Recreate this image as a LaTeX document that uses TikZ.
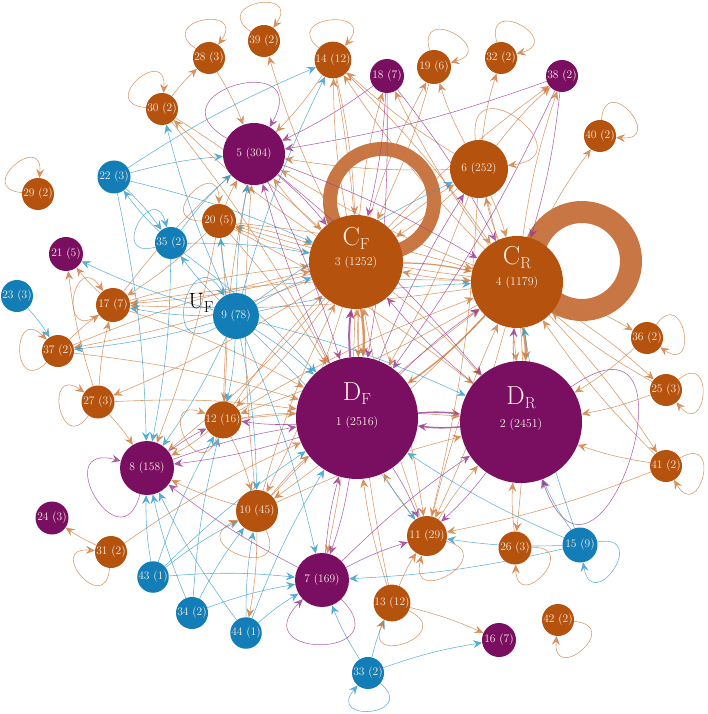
\documentclass[tikz,border=0pt]{standalone}
\usepackage{fontspec}
\usetikzlibrary{arrows.meta}
\definecolor{ocol}{RGB}{181,82,14}
\definecolor{pcol}{RGB}{122,15,98}
\definecolor{bcol}{RGB}{18,125,182}
\definecolor{oedge}{RGB}{208,125,65}
\definecolor{bedge}{RGB}{55,158,205}
\definecolor{pedge}{RGB}{155,60,145}
\definecolor{ringc}{RGB}{200,118,68}
\definecolor{tcol}{RGB}{252,240,228}
\pgfdeclarelayer{bg}
\pgfsetlayers{bg,main}
\newcommand{\bigsub}[2]{#1\raisebox{-0.35ex}{\fontsize{16}{16}\selectfont #2}}
\tikzset{
  nd/.style={circle, inner sep=0pt, text=tcol, font=\fontsize{11.5}{13}\selectfont},
  on/.style={nd, fill=ocol},
  pn/.style={nd, fill=pcol},
  bn/.style={nd, fill=bcol},
  tip/.style={-{Stealth[length=9pt,width=8pt,inset=3.5pt]}},
  oe/.style={draw=oedge, opacity=0.8, line width=0.55pt, tip},
  be/.style={draw=bedge, opacity=0.8, line width=0.55pt, tip},
  pe/.style={draw=pedge, opacity=0.8, line width=0.55pt, tip},
  biglbl/.style={text=tcol, font=\fontsize{26}{28}\selectfont, inner sep=0pt},
  numlbl/.style={text=tcol, font=\fontsize{12}{14}\selectfont, inner sep=0pt},
}
\begin{document}
\begin{tikzpicture}[x=1pt,y=-1pt]
\useasboundingbox (0,0) rectangle (708,714);
% nodes
\node[pn, minimum size=122pt] (n1) at (357,418) {};
\node[pn, minimum size=122pt] (n2) at (521,422) {};
\node[on, minimum size=94pt] (n3) at (356,262) {};
\node[on, minimum size=92pt] (n4) at (517,282) {};
\node[pn, minimum size=62pt] (n5) at (254,154) {5 (304)};
\node[on, minimum size=58pt] (n6) at (479,169) {6 (252)};
\node[pn, minimum size=54pt] (n7) at (322,580) {7 (169)};
\node[pn, minimum size=54pt] (n8) at (147,468) {8 (158)};
\node[bn, minimum size=46pt] (n9) at (236,316) {9 (78)};
\node[on, minimum size=42pt] (n10) at (257,511) {10 (45)};
\node[on, minimum size=40pt] (n11) at (427,536) {11 (29)};
\node[on, minimum size=36pt] (n12) at (223,420) {12 (16)};
\node[on, minimum size=36pt] (n13) at (392,603) {13 (12)};
\node[on, minimum size=35pt] (n14) at (333,60) {14 (12)};
\node[bn, minimum size=35pt] (n15) at (580,545) {15 (9)};
\node[pn, minimum size=34pt] (n16) at (499,640) {16 (7)};
\node[on, minimum size=34pt] (n17) at (113,305) {17 (7)};
\node[pn, minimum size=34pt] (n18) at (387,76) {18 (7)};
\node[on, minimum size=34pt] (n19) at (434,67) {19 (6)};
\node[on, minimum size=34pt] (n20) at (219,221) {20 (5)};
\node[pn, minimum size=34pt] (n21) at (66,254) {21 (5)};
\node[bn, minimum size=33pt] (n22) at (114,177) {22 (3)};
\node[bn, minimum size=32pt] (n23) at (17,296) {23 (3)};
\node[pn, minimum size=33pt] (n24) at (52,518) {24 (3)};
\node[on, minimum size=32pt] (n25) at (666,390) {25 (3)};
\node[on, minimum size=33pt] (n26) at (515,548) {26 (3)};
\node[on, minimum size=33pt] (n27) at (98,402) {27 (3)};
\node[on, minimum size=32pt] (n28) at (209,58) {28 (3)};
\node[on, minimum size=32pt] (n29) at (38,194) {29 (2)};
\node[on, minimum size=32pt] (n30) at (162,109) {30 (2)};
\node[on, minimum size=32pt] (n31) at (111,552) {31 (2)};
\node[on, minimum size=32pt] (n32) at (501,58) {32 (2)};
\node[bn, minimum size=32pt] (n33) at (368,673) {33 (2)};
\node[bn, minimum size=32pt] (n34) at (192,613) {34 (2)};
\node[bn, minimum size=32pt] (n35) at (171,243) {35 (2)};
\node[on, minimum size=32pt] (n36) at (647,338) {36 (2)};
\node[on, minimum size=32pt] (n37) at (58,351) {37 (2)};
\node[pn, minimum size=32pt] (n38) at (562,76) {38 (2)};
\node[on, minimum size=32pt] (n39) at (264,41) {39 (2)};
\node[on, minimum size=32pt] (n40) at (600,136) {40 (2)};
\node[on, minimum size=32pt] (n41) at (666,466) {41 (2)};
\node[on, minimum size=32pt] (n42) at (558,620) {42 (2)};
\node[bn, minimum size=31pt] (n43) at (153,577) {43 (1)};
\node[bn, minimum size=31pt] (n44) at (246,633) {44 (1)};
% labels of the big nodes
\node[biglbl] (L1) at ([yshift=24pt]n1.center) {\bigsub{D}{F}};
\node[numlbl] (N1) at ([yshift=-5pt]n1.center) {1 (2516)};
\node[biglbl] (L2) at ([yshift=24pt]n2.center) {\bigsub{D}{R}};
\node[numlbl] (N2) at ([yshift=-3pt]n2.center) {2 (2451)};
\node[biglbl] (L3) at ([yshift=24pt]n3.center) {\bigsub{C}{F}};
\node[numlbl] (N3) at ([yshift=-1pt]n3.center) {3 (1252)};
\node[biglbl] (L4) at ([yshift=24pt]n4.center) {\bigsub{C}{R}};
\node[numlbl] (N4) at ([yshift=-1pt]n4.center) {4 (1179)};
\node[font=\fontsize{22}{24}\selectfont, inner sep=0pt] (UF) at (201,303) {\bigsub{U}{F}};

\begin{pgfonlayer}{bg}
% thick self loops of C_F and C_R
\coordinate (rc3) at (382,201);
\coordinate (rc4) at (582,261);
\draw[ringc, line width=14pt] (rc3) circle[radius=52pt];
\draw[ringc, line width=22pt] (rc4) circle[radius=49pt];
% thick edges
\draw[oe, line width=2.5pt, -{Stealth[length=10pt,width=9pt,inset=3pt]}] (n3) to[bend left=6] (n1);
\draw[oe, line width=2.5pt, -{Stealth[length=10pt,width=9pt,inset=3pt]}] (n4) to[bend left=6] (n2);
\draw[pe, line width=2pt, -{Stealth[length=10pt,width=9pt,inset=3pt]}] (n1) to[bend left=6] (n3);
\draw[pe, line width=1.5pt] (n1) to[bend left=6] (n2);
\draw[pe, line width=1.5pt] (n2) to[bend left=6] (n1);
\draw[oe, line width=1.5pt] (n4) to[bend left=6] (n1);
\draw[oe, line width=1.2pt] (n3) to[bend left=6] (n4);
% orange edges
\foreach \a/\b in {3/5,3/6,3/14,3/18,3/19,3/20,3/17,3/12,3/8,3/11,3/10,3/39,3/38,3/2,3/27,3/37,3/30,3/7,
  4/3,4/6,4/5,4/11,4/26,4/25,4/36,4/40,4/38,4/14,4/18,4/12,4/10,4/41,4/17,4/20,
  6/5,6/4,6/3,6/1,6/2,6/32,6/38,6/14,6/11,6/19,
  10/1,10/3,10/8,10/44,10/5,10/2,10/4,
  11/1,11/2,11/4,11/3,
  12/1,12/3,12/8,12/5,12/10,12/2,12/4,
  13/1,13/11,13/16,13/3,
  14/3,14/1,14/5,14/4,
  17/1,17/3,17/21,17/5,17/4,
  19/3,
  20/5,20/3,20/1,20/8,20/17,20/12,20/4,20/2,
  25/2,25/4,26/2,27/17,27/21,27/1,27/8,28/5,30/28,30/3,30/1,
  31/24,31/1,36/2,37/17,37/3,37/1,41/2,41/11,41/4}
  \draw[oe] (n\a) to[bend left=5] (n\b);
% blue edges
\foreach \a/\b in {9/3,9/1,9/5,9/17,9/21,9/37,9/8,9/12,9/10,9/20,9/35,9/4,9/14,9/30,9/7,9/2,9/11,9/6,
  22/14,22/5,22/35,35/22,22/8,22/3,35/5,35/8,35/3,35/1,23/37,
  43/8,43/12,43/7,43/1,43/10,34/8,34/10,34/7,34/12,44/8,44/7,44/1,44/10,
  15/11,15/7,15/2,15/1,15/4,33/7,33/13,33/16}
  \draw[be] (n\a) to[bend left=5] (n\b);
% purple edges
\foreach \a/\b in {1/8,1/5,1/4,1/11,1/7,1/12,1/6,2/4,2/11,2/3,5/1,5/3,5/4,5/2,
  7/8,7/1,7/2,7/11,8/1,8/12,18/3,18/1,18/5,18/4,38/4,38/5,38/1}
  \draw[pe] (n\a) to[bend left=5] (n\b);
% self loops: node / axis angle / control distance
\foreach \n/\a/\d in {28/100/50,39/100/50,14/95/50,30/130/50,29/130/48,
  19/60/50,32/60/50,40/40/50,36/10/48,25/-5/48,41/-15/50,
  26/-43/50,42/-50/50,13/-70/54,11/-60/56,10/-110/60,
  27/190/50,37/180/50,31/220/50,17/170/52,12/205/54,20/135/50,6/52/80}
  {\pgfmathtruncatemacro\o{\a+45}\pgfmathtruncatemacro\i{\a-45}
   \draw[oe] (n\n.\o) .. controls +(\o:\d pt) and +(\i:\d pt) .. (n\n.\i);}
\foreach \n/\a/\d in {15/-35/54,33/-85/50,35/150/50,9/165/68}
  {\pgfmathtruncatemacro\o{\a+45}\pgfmathtruncatemacro\i{\a-45}
   \draw[be] (n\n.\o) .. controls +(\o:\d pt) and +(\i:\d pt) .. (n\n.\i);}
\foreach \n/\a/\d in {7/-90/85,8/210/75,5/105/92}
  {\pgfmathtruncatemacro\o{\a+45}\pgfmathtruncatemacro\i{\a-45}
   \draw[pe] (n\n.\o) .. controls +(\o:\d pt) and +(\i:\d pt) .. (n\n.\i);}
\draw[pe] (n2.35) .. controls +(35:170pt) and +(-70:170pt) .. (n2.-70);
\end{pgfonlayer}
\end{tikzpicture}
\end{document}
